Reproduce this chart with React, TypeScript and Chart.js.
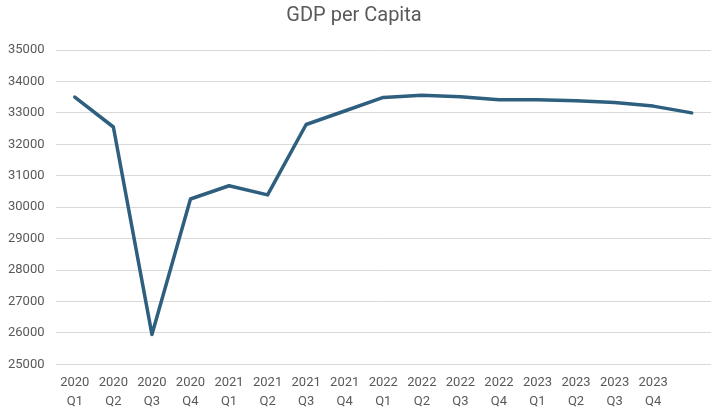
import React, { useEffect, useRef } from "react";
import { Chart, registerables } from "chart.js";

Chart.register(...registerables);

const years = ["2020", "2020", "2020", "2020", "2021", "2021", "2021", "2021", "2022", "2022", "2022", "2022", "2023", "2023", "2023", "2023", ""];
const quarters = ["Q1", "Q2", "Q3", "Q4", "Q1", "Q2", "Q3", "Q4", "Q1", "Q2", "Q3", "Q4", "Q1", "Q2", "Q3", "Q4", ""];
const gdpPerCapita = [33500, 32550, 25950, 30260, 30680, 30390, 32630, 33060, 33490, 33560, 33515, 33420, 33420, 33385, 33330, 33215, 33000];
const yMin = 25000;
const yMax = 35000;
const yStep = 1000;
const titleText = "GDP per Capita";

export default function App() {
  const ref = useRef<HTMLCanvasElement | null>(null);
  useEffect(() => {
    if (!ref.current) return;
    const labels = years.map((y, i) => (y ? [y, quarters[i]] : ""));
    const chart = new Chart(ref.current, {
      type: "line",
      data: {
        labels,
        datasets: [
          {
            label: titleText,
            data: gdpPerCapita,
            borderColor: "#2E5F7F",
            backgroundColor: "#2E5F7F",
            borderWidth: 3.5,
            pointRadius: 0,
            tension: 0,
            borderCapStyle: "round",
            borderJoinStyle: "round",
          },
        ],
      },
      options: {
        responsive: false,
        animation: false,
        layout: { padding: { left: -3, right: 5, top: 4, bottom: 0 } },
        plugins: {
          legend: { display: false },
          tooltip: { enabled: false },
          title: {
            display: true,
            text: titleText,
            color: "#595959",
            font: { family: "Roboto", size: 20, weight: "normal" },
            padding: { top: 0, bottom: 22 },
          },
        },
        scales: {
          x: {
            offset: true,
            grid: { display: false },
            border: { display: false },
            ticks: {
              color: "#595959",
              font: { family: "Roboto", size: 13, lineHeight: 1.45 },
              maxRotation: 0,
              minRotation: 0,
              autoSkip: false,
              padding: 1,
            },
          },
          y: {
            min: yMin,
            max: yMax,
            grid: { color: "#D9D9D9", lineWidth: 1, drawTicks: false },
            border: { display: false },
            ticks: {
              stepSize: yStep,
              color: "#595959",
              font: { family: "Roboto", size: 13 },
              padding: 11,
              callback: (v: any) => String(v),
            },
          },
        },
      },
    });
    return () => chart.destroy();
  }, []);
  return (
    <div style={{ position: "fixed", left: 0, top: 0, width: 716, height: 412, background: "#fff" }}>
      <canvas ref={ref} width={716} height={412} style={{ width: 716, height: 412 }} />
    </div>
  );
}
